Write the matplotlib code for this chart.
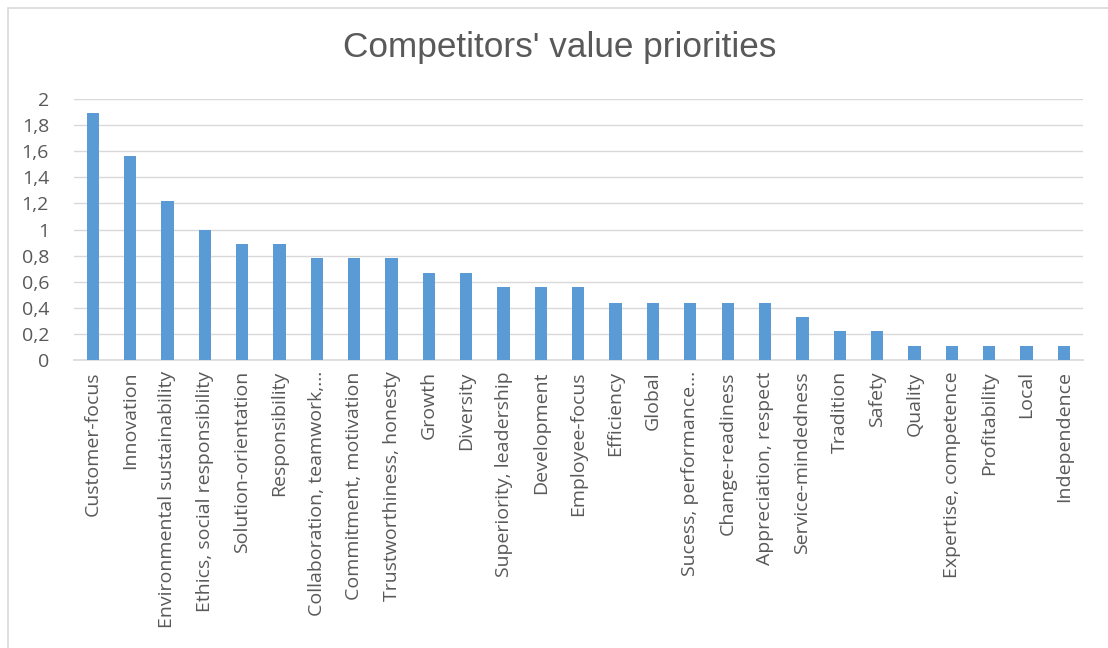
import matplotlib.pyplot as plt
from matplotlib.patches import Rectangle
import numpy as np

values = ['Customer-focus', 'Innovation', 'Environmental sustainability',
          'Ethics, social responsibility', 'Solution-orientation', 'Responsibility',
          'Collaboration, teamwork,…', 'Commitment, motivation', 'Trustworthiness, honesty',
          'Growth', 'Diversity', 'Superiority, leadership', 'Development',
          'Employee-focus', 'Efficiency', 'Global', 'Sucess, performance…',
          'Change-readiness', 'Appreciation, respect', 'Service-mindedness',
          'Tradition', 'Safety', 'Quality', 'Expertise, competence',
          'Profitability', 'Local', 'Independence']
scores = [1.89, 1.56, 1.22, 1.0, 0.89, 0.89, 0.78, 0.78, 0.78, 0.67, 0.67,
          0.56, 0.56, 0.56, 0.44, 0.44, 0.44, 0.44, 0.44, 0.33, 0.22, 0.22,
          0.11, 0.11, 0.11, 0.11, 0.11]
yticks = [0, 0.2, 0.4, 0.6, 0.8, 1, 1.2, 1.4, 1.6, 1.8, 2]
ytick_labels = ['0', '0,2', '0,4', '0,6', '0,8', '1', '1,2', '1,4', '1,6', '1,8', '2']

plt.rcParams['font.family'] = ['Open Sans', 'DejaVu Sans']
grey = '#595959'

fig = plt.figure(figsize=(11.08, 6.48), dpi=100)
# light frame around the chart area
fig.patches.append(Rectangle((8 / 1108, -0.01), 1.1, 1 - 8 / 648 + 0.01,
                             transform=fig.transFigure, fill=False,
                             edgecolor='#d9d9d9', linewidth=1.2))

ax = fig.add_axes([0.0668, 0.4444, 0.9102, 0.4028])
x = np.arange(len(values))
ax.bar(x, scores, width=0.33, color='#5b9bd5', zorder=3)

ax.set_xlim(-0.5, len(values) - 0.5)
ax.set_ylim(0, 2)
ax.set_yticks(yticks)
ax.set_yticklabels(ytick_labels)
ax.set_xticks(x)
ax.set_xticklabels(values, rotation=90)
ax.tick_params(axis='both', length=0, labelcolor=grey, labelsize=14)
ax.tick_params(axis='y', pad=18)
ax.tick_params(axis='x', pad=8)

ax.grid(axis='y', color='#d9d9d9', linewidth=1, zorder=0)
for side in ['top', 'right', 'left']:
    ax.spines[side].set_visible(False)
ax.spines['bottom'].set_color('#d9d9d9')
ax.spines['bottom'].set_linewidth(1.2)

fig.text(0.505, 0.926, "Competitors' value priorities", ha='center', va='center',
         fontsize=25.3, color=grey, family='Liberation Sans')

fig.savefig('out.png', dpi=100)
